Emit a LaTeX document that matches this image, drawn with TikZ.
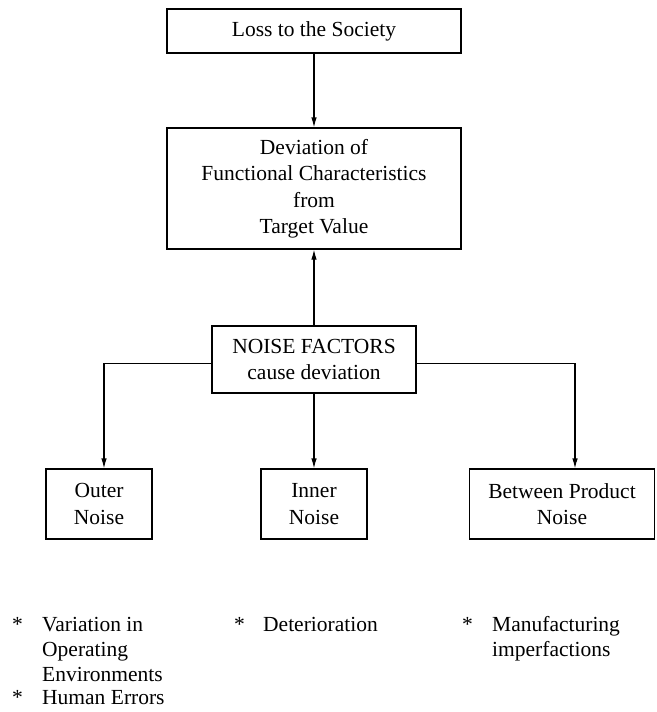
\documentclass[tikz,border=0pt]{standalone}
\usepackage{fontspec}
\setmainfont{Liberation Serif}
\usetikzlibrary{arrows.meta}
\tikzset{
  box/.style={draw, line width=1.1pt, inner sep=0pt, align=center, font=\fontsize{21.5}{26.5}\selectfont},
  arr/.style={line width=1.1pt, -{Latex[length=10pt,width=5.5pt]}},
  bul/.style={inner sep=0pt, anchor=base west, align=left, font=\fontsize{21.5}{25}\selectfont},
}
\begin{document}
\begin{tikzpicture}[x=1pt,y=-1pt]
\useasboundingbox (0,0) rectangle (656,712);
\node[box, minimum width=294pt, minimum height=44pt] (top) at (314,31) {Loss to the Society};
\node[box, minimum width=294pt, minimum height=121pt] (dev) at (314,188.5)
  {Deviation of\\Functional Characteristics\\from\\Target Value};
\node[box, minimum width=204pt, minimum height=67pt] (noise) at (314,359.5)
  {NOISE FACTORS\\cause deviation};
\node[box, minimum width=106pt, minimum height=70pt] (outer) at (99,504) {Outer\\Noise};
\node[box, minimum width=106pt, minimum height=70pt] (inner) at (314,504) {Inner\\Noise};
\node[box, minimum width=185pt, minimum height=70pt] (between) at (562,504) {Between Product\\Noise};

\coordinate (oin) at ([xshift=5pt]outer.north);
\coordinate (bin) at ([xshift=13pt]between.north);
\draw[arr] (top) -- (dev);
\draw[arr] (noise) -- (dev);
\draw[arr] (noise) -- (inner);
\draw[arr] ([yshift=-4pt]noise.west) -| (oin);
\draw[arr] ([yshift=-4pt]noise.east) -| (bin);

\node[bul] (s1) at (12,631) {*};
\node[bul] (t1) at (42,681) {Variation in\\Operating\\Environments};
\node[bul] (s2) at (12,704) {*};
\node[bul] (t2) at (42,704) {Human Errors};
\node[bul] (s3) at (234,631) {*};
\node[bul] (t3) at (263,631) {Deterioration};
\node[bul] (s4) at (462,631) {*};
\node[bul] (t4) at (492,656) {Manufacturing\\imperfactions};
\end{tikzpicture}
\end{document}
